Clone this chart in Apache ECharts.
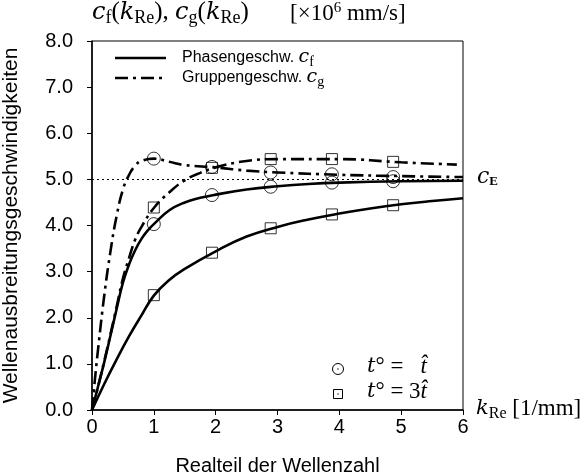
<!DOCTYPE html>
<html>
<head>
<meta charset="utf-8">
<script src="https://cdn.jsdelivr.net/npm/echarts@6/dist/echarts.min.js"></script>
<style>html,body{margin:0;padding:0;background:#fff}#c{width:587px;height:475px}</style>
</head>
<body>
<div id="c"></div>
<script>
// ---- data ----
var xTickLabels = ['0', '1', '2', '3', '4', '5', '6'];
var yTickLabels = ['0.0', '1.0', '2.0', '3.0', '4.0', '5.0', '6.0', '7.0', '8.0'];
var cE = 5.0;
// phase velocity, t° = t^
var phaseT1 = [[0,0],[0.1,0.52],[0.2,1.05],[0.3,1.62],[0.4,2.2],[0.5,2.76],[0.6,3.16],[0.7,3.47],[0.8,3.71],[0.9,3.89],[1,4.03],[1.25,4.33],[1.5,4.5],[1.75,4.6],[2,4.67],[2.5,4.78],[3,4.85],[3.5,4.9],[4,4.93],[5,4.96],[6,4.97]];
// group velocity, t° = t^
var groupT1 = [[0,0],[0.05,0.7],[0.1,1.34],[0.2,2.5],[0.3,3.45],[0.4,4.22],[0.5,4.78],[0.6,5.1],[0.7,5.3],[0.8,5.4],[1,5.45],[1.25,5.38],[1.5,5.31],[2,5.26],[2.5,5.19],[3,5.15],[4,5.1],[5,5.07],[6,5.05]];
// phase velocity, t° = 3t^
var phaseT3 = [[0,0],[0.2,0.57],[0.4,1.1],[0.6,1.6],[0.8,2.05],[1,2.48],[1.25,2.82],[1.5,3.06],[2,3.44],[2.5,3.76],[3,3.97],[3.5,4.13],[4,4.26],[4.5,4.37],[5,4.46],[5.5,4.53],[6,4.59]];
// group velocity, t° = 3t^
var groupT3 = [[0,0],[0.1,0.52],[0.2,1.07],[0.3,1.65],[0.4,2.25],[0.5,2.85],[0.6,3.3],[0.7,3.7],[0.8,3.97],[1,4.38],[1.25,4.72],[1.5,4.98],[1.75,5.14],[2,5.26],[2.5,5.4],[3,5.44],[4,5.44],[5,5.37],[5.9,5.32]];
// markers
var circlesT1 = [[1,4.03],[1.94,4.66],[2.89,4.84],[3.88,4.93],[4.87,4.96],[1,5.45],[1.94,5.27],[2.89,5.15],[3.88,5.11],[4.87,5.05]];
var squaresT3 = [[1,2.49],[1.94,3.41],[2.89,3.94],[3.88,4.24],[4.87,4.44],[1,4.39],[1.94,5.25],[2.89,5.44],[3.88,5.44],[4.87,5.38]];

var sansFont = '"Liberation Sans", Arial, sans-serif';
var serifFont = '"Liberation Serif", "DejaVu Serif", serif';
var mathItalic = '"DejaVu Serif", "Liberation Serif", serif';
var dashDot = [13, 5, 3, 5];

function lineSeries(name, data, type) {
  return {
    name: name, type: 'line', data: data, smooth: 0.45,
    symbol: 'none', showSymbol: false, z: 3,
    lineStyle: { color: '#000', width: 2.6, type: type, cap: 'butt' },
    itemStyle: { color: '#000' }
  };
}

var chart = echarts.init(document.getElementById('c'), null, { renderer: 'canvas' });
var s1 = lineSeries('phaseT1', phaseT1, 'solid');
s1.markLine = {
  silent: true, symbol: 'none', animation: false,
  label: { show: false },
  lineStyle: { color: '#000', width: 1, type: [2, 3] },
  data: [{ yAxis: cE }]
};
var mathRich = {
  i: { fontFamily: mathItalic, fontStyle: 'italic', fontSize: 21, fill: '#000' },
  t: { fontFamily: serifFont, fontStyle: 'italic', fontSize: 23, fill: '#000' },
  n: { fontFamily: serifFont, fontSize: 23, fill: '#000' },
  s: { fontFamily: serifFont, fontSize: 16, fill: '#000', padding: [10, 0, 0, 0] },
  p: { fontFamily: serifFont, fontSize: 15, fill: '#000', padding: [0, 0, 10, 0] }
};
var titleRich = {
  i: { fontFamily: mathItalic, fontStyle: 'italic', fontSize: 24, fill: '#000' },
  n: { fontFamily: serifFont, fontSize: 25, fill: '#000' },
  s: { fontFamily: serifFont, fontSize: 18, fill: '#000', padding: [11, 0, 0, 0] }
};
var option = {
  animation: false,
  backgroundColor: '#fff',
  grid: { left: 92, right: 124, top: 41, bottom: 65, show: true, borderColor: '#000', borderWidth: 1,
          backgroundColor: 'transparent', containLabel: false, outerBoundsMode: 'none' },
  xAxis: {
    type: 'value', min: 0, max: 6, interval: 1,
    axisLine: { show: true, lineStyle: { color: '#000', width: 1.5 } },
    axisTick: { show: true, inside: false, length: 5, lineStyle: { color: '#000' } },
    axisLabel: { color: '#000', fontSize: 20, fontFamily: sansFont, margin: 7, formatter: function (v) { return xTickLabels[Math.round(v)]; } },
    splitLine: { show: false },
    name: 'Realteil der Wellenzahl', nameLocation: 'middle', nameGap: 46,
    nameTextStyle: { color: '#000', fontSize: 20, fontFamily: sansFont }
  },
  yAxis: {
    type: 'value', min: 0, max: 8, interval: 1,
    axisLine: { show: true, lineStyle: { color: '#000', width: 1.5 } },
    axisTick: { show: true, inside: false, length: 5, lineStyle: { color: '#000' } },
    axisLabel: { color: '#000', fontSize: 20, fontFamily: sansFont, margin: 19, formatter: function (v) { return yTickLabels[Math.round(v)]; } },
    splitLine: { show: false },
    name: 'Wellenausbreitungsgeschwindigkeiten', nameLocation: 'middle', nameGap: 70,
    nameTextStyle: { color: '#000', fontSize: 21, fontFamily: sansFont }
  },
  series: [
    s1,
    lineSeries('phaseT3', phaseT3, 'solid'),
    lineSeries('groupT1', groupT1, dashDot),
    lineSeries('groupT3', groupT3, dashDot),
    { name: 'circles', type: 'scatter', data: circlesT1, symbol: 'circle', symbolSize: 13, z: 4,
      itemStyle: { color: 'rgba(0,0,0,0)', borderColor: '#000', borderWidth: 1 } },
    { name: 'squares', type: 'scatter', data: squaresT3, symbol: 'rect', symbolSize: 11, z: 4,
      itemStyle: { color: 'rgba(0,0,0,0)', borderColor: '#000', borderWidth: 1 } }
  ],
  graphic: [
    // title (axis quantity)
    { type: 'text', left: 92, top: 0, style: {
      text: '{i|c}{s|f}{n|(}{i|k}{s|Re}{n|), }{i|c}{s|g}{n|(}{i|k}{s|Re}{n|)}', fill: '#000', rich: titleRich } },
    { type: 'text', left: 290, top: 1, style: {
      text: '{n|[×10}{p|6}{n| mm/s]}', fill: '#000', rich: mathRich } },
    // legend
    { type: 'line', shape: { x1: 115, y1: 58, x2: 166, y2: 58 }, style: { stroke: '#000', lineWidth: 2.6 } },
    { type: 'line', shape: { x1: 115, y1: 78, x2: 166, y2: 78 }, style: { stroke: '#000', lineWidth: 2.6, lineDash: dashDot } },
    { type: 'text', left: 182, top: 48, style: {
      text: '{t|Phasengeschw. }{i|c}{s|f}', fill: '#000',
      rich: { t: { fontFamily: sansFont, fontSize: 16, fill: '#000' },
              i: { fontFamily: mathItalic, fontStyle: 'italic', fontSize: 19, fill: '#000' },
              s: { fontFamily: serifFont, fontSize: 14, fill: '#000', padding: [9, 0, 0, 0] } } } },
    { type: 'text', left: 182, top: 68, style: {
      text: '{t|Gruppengeschw. }{i|c}{s|g}', fill: '#000',
      rich: { t: { fontFamily: sansFont, fontSize: 16, fill: '#000' },
              i: { fontFamily: mathItalic, fontStyle: 'italic', fontSize: 19, fill: '#000' },
              s: { fontFamily: serifFont, fontSize: 14, fill: '#000', padding: [9, 0, 0, 0] } } } },
    // right side labels
    { type: 'text', left: 477, top: 166, style: {
      text: '{i|c}{s|E}', fill: '#000',
      rich: {
        i: { fontFamily: mathItalic, fontStyle: 'italic', fontSize: 22, fill: '#000' },
        s: { fontFamily: serifFont, fontSize: 13, fontWeight: 'bold', fill: '#000', padding: [10, 0, 0, 0] }
      } } },
    { type: 'text', left: 476, top: 397, style: {
      text: '{i|k}{s|Re}{n| [1/mm]}', fill: '#000', rich: mathRich } },
    // marker key
    { type: 'circle', shape: { cx: 338, cy: 369, r: 5.5 }, style: { fill: 'none', stroke: '#000', lineWidth: 1 } },
    { type: 'circle', shape: { cx: 338, cy: 369, r: 0.7 }, style: { fill: '#000' } },
    { type: 'rect', shape: { x: 333.5, y: 389.5, width: 9, height: 9 }, style: { fill: 'none', stroke: '#000', lineWidth: 1 } },
    { type: 'circle', shape: { cx: 338, cy: 394, r: 0.7 }, style: { fill: '#000' } },
    { type: 'text', left: 367, top: 355, style: {
      text: '{i|t}{n|° =   }{t|t\u0302}', fill: '#000', rich: mathRich } },
    { type: 'text', left: 367, top: 380, style: {
      text: '{i|t}{n|° = 3}{t|t\u0302}', fill: '#000', rich: mathRich } }
  ]
};
chart.setOption(option);
</script>
</body>
</html>
